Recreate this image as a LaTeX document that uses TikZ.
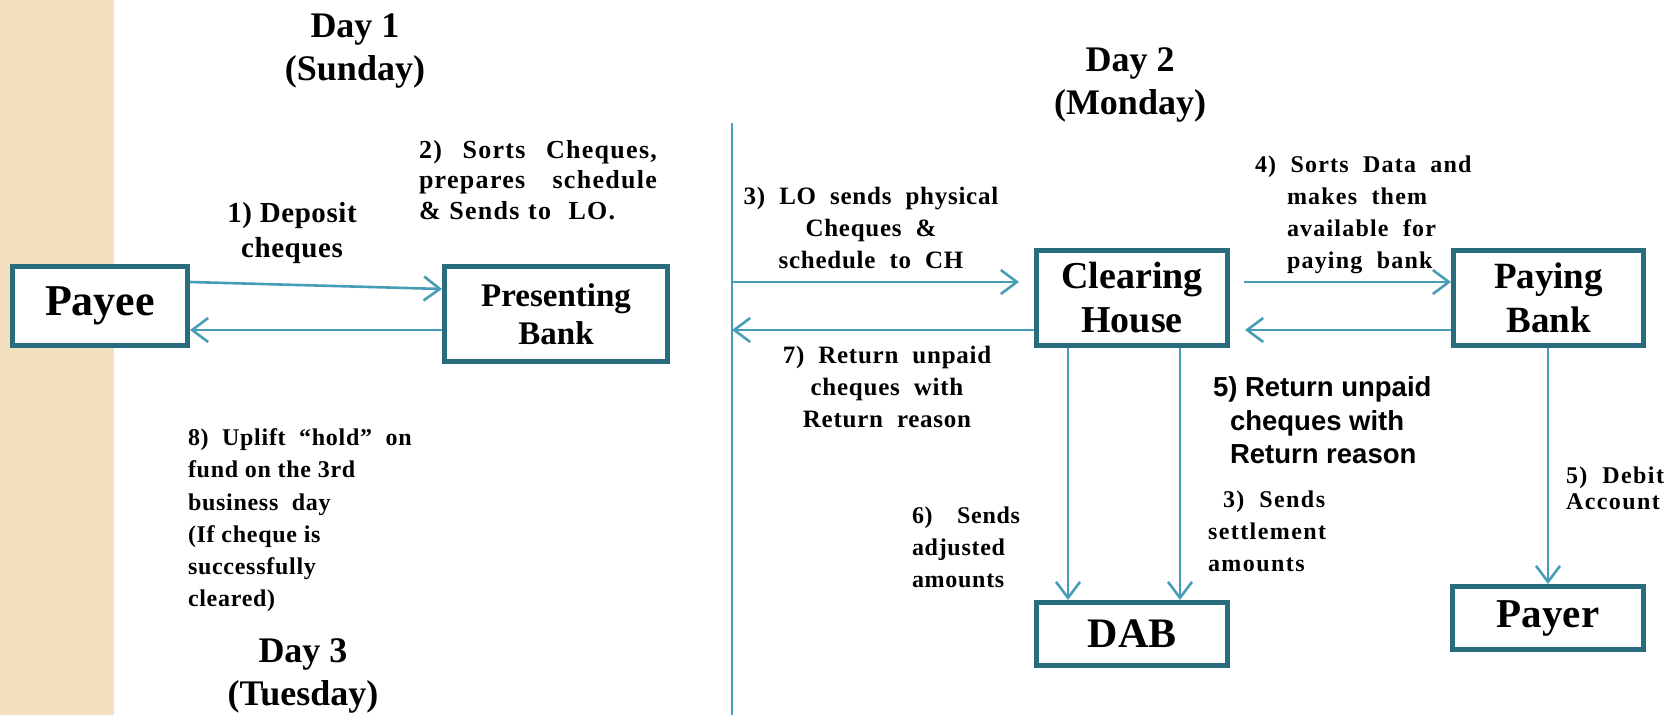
\documentclass[tikz,border=0pt]{standalone}
\usepackage{fontspec}
\setmainfont{Liberation Serif}
\newfontfamily\sansb{Liberation Sans}
\newfontfamily\lsA{Liberation Serif}[LetterSpace=3]
\newfontfamily\lsC{Liberation Serif}[LetterSpace=5]
\newfontfamily\lsD{Liberation Serif}[LetterSpace=2]
\newfontfamily\lsB{Liberation Serif}[LetterSpace=6]
\usetikzlibrary{arrows.meta,calc}
\definecolor{boxc}{RGB}{41,108,125}
\definecolor{arrc}{RGB}{72,157,182}
\definecolor{strip}{RGB}{242,224,190}
\tikzset{
  box/.style={draw=boxc, line width=5pt, fill=white, inner sep=0pt, align=center},
  flow/.style={draw=arrc, line width=2.6pt, -{Straight Barb[length=16pt,width=24pt,line width=2.6pt]}},
  rule/.style={draw=arrc, line width=2.6pt},
  lbl/.style={inner sep=0pt, outer sep=0pt},
  daylbl/.style={lbl, anchor=north, align=center, font=\bfseries\fontsize{36}{43}\selectfont},
}
\begin{document}
\begin{tikzpicture}[x=1pt,y=-1pt]
\fill[strip] (0,0) rectangle (114,715);
\useasboundingbox (0,0) rectangle (1675,715);

% boxes
\node[box, minimum width=175pt, minimum height=79pt, font=\bfseries\fontsize{44}{50}\selectfont] (payee) at (100,306) {Payee};
\node[box, minimum width=223pt, minimum height=95pt, font=\bfseries\fontsize{33}{38}\selectfont] (pres) at (556,314) {Presenting\\Bank};
\node[box, minimum width=191pt, minimum height=95pt, font=\bfseries\fontsize{38}{44}\selectfont] (ch) at (1132,298) {Clearing\\House};
\node[box, minimum width=190pt, minimum height=95pt, font=\bfseries\fontsize{37}{44}\selectfont] (pay) at (1548.5,298) {Paying\\Bank};
\node[box, minimum width=191pt, minimum height=63pt, font=\bfseries\fontsize{42}{48}\selectfont] (dab) at (1132,634) {DAB};
\node[box, minimum width=191pt, minimum height=63pt, font=\bfseries\fontsize{41}{48}\selectfont] (payer) at (1548,618) {Payer};

% divider line
\coordinate (ltop) at (732,123);
\coordinate (lbot) at (732,715);
\coordinate (l1) at (732,282);
\coordinate (l2) at (732,330);
\draw[rule] (ltop) -- (lbot);

% connectors
\draw[flow] ($(payee.east)+(0,-24)$) -- ($(pres.west)+(0,-25)$);
\draw[flow] ($(pres.west)+(0,16)$) -- ($(payee.east)+(0,24)$);
\draw[flow] (l1) -- ($(ch.west)+(-15,-16)$);
\draw[flow] ($(ch.west)+(0,32)$) -- (l2);
\draw[flow] ($(ch.east)+(14,-16)$) -- ($(pay.west)+(0,-16)$);
\draw[flow] ($(pay.west)+(0,32)$) -- ($(ch.east)+(15,32)$);
\draw[flow] (ch.south -| 1068,0) -- (dab.north -| 1068,0);
\draw[flow] (ch.south -| 1180,0) -- (dab.north -| 1180,0);
\draw[flow] (pay.south -| payer.north) -- (payer.north);

% day labels
\node[daylbl] (d1) at (355,13.5) {Day 1\\(Sunday)};
\node[daylbl] (d2) at (1130,47.5) {Day 2\\(Monday)};
\node[daylbl] (d3) at (303,638.5) {Day 3\\(Tuesday)};

% step labels
\node[lbl, anchor=north, align=center, font=\lsD\bfseries\fontsize{29}{35}\selectfont] (t1) at (292,202) {1) Deposit\\cheques};
\node[lbl, anchor=north west, align=left, text width=238pt, font=\lsC\bfseries\fontsize{26}{30.5}\selectfont] (t2) at (419,140) {2)\hfill Sorts\hfill Cheques,\\prepares\hfill schedule\\\&~Sends to~ LO.};
\node[lbl, anchor=north, align=center, font=\lsA\bfseries\fontsize{25}{32}\selectfont] (t3) at (871,187) {3)~ LO~ sends~ physical\\Cheques~ \&\\schedule~ to~ CH};
\node[lbl, anchor=north, align=center, font=\lsA\bfseries\fontsize{25}{32}\selectfont] (t7) at (887,346) {7)~ Return~ unpaid\\cheques~ with\\Return~ reason};
\node[lbl, anchor=north west, align=left, font=\lsC\bfseries\fontsize{24}{32}\selectfont] (t4) at (1255,155.5) {4)~ Sorts~ Data~ and\\\hspace*{32pt}makes~ them\\\hspace*{32pt}available~ for\\\hspace*{32pt}paying~ bank};
\node[lbl, anchor=north west, align=left, font=\sansb\bfseries\fontsize{27.5}{33.5}\selectfont] (t5) at (1213,377) {5) Return unpaid\\\hspace*{17pt}cheques with\\\hspace*{17pt}Return reason};
\node[lbl, anchor=north west, align=left, font=\lsB\bfseries\fontsize{24}{32}\selectfont] (t3b) at (1208,490.5) {\hspace*{15pt}3)~ Sends\\settlement\\amounts};
\node[lbl, anchor=north west, align=left, text width=108pt, font=\lsA\bfseries\fontsize{24}{32}\selectfont] (t6) at (912,506.5) {6)\hfill Sends\\adjusted\\amounts};
\node[lbl, anchor=north west, align=left, font=\lsB\bfseries\fontsize{24}{26}\selectfont] (t5b) at (1566,466.5) {5)~ Debit\\Account};
\node[lbl, anchor=north west, align=left, font=\lsA\bfseries\fontsize{24}{32.3}\selectfont] (t8) at (188,428.5) {8)~ Uplift~ “hold”~ on\\fund on the 3rd\\business~ day\\(If cheque is\\successfully\\cleared)};
\end{tikzpicture}
\end{document}
